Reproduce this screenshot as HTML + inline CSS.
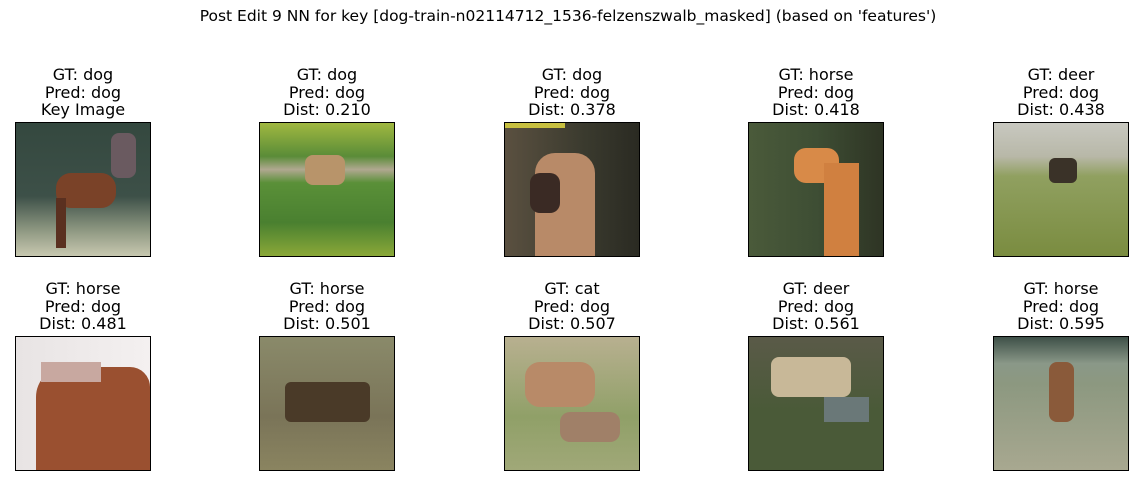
<!DOCTYPE html>
<html><head><meta charset="utf-8"><style>
body{margin:0;width:1136px;height:486px;background:#fff;position:relative;overflow:hidden;font-family:"DejaVu Sans","Liberation Sans",sans-serif;color:#000}
.t{position:absolute;left:0;width:1136px;text-align:center;top:7px;font-size:15.5px}
.l{position:absolute;width:200px;text-align:center;font-size:16px;line-height:17.5px}
.im{position:absolute;width:136px;height:135px;border:1px solid #000;box-sizing:border-box;overflow:hidden}
.im div{position:absolute}
</style></head><body>
<div class="t">Post Edit 9 NN for key [dog-train-n02114712_1536-felzenszwalb_masked] (based on 'features')</div>

<div class="l" style="left:-17px;top:66px">GT: dog<br>Pred: dog<br>Key Image</div>
<div class="l" style="left:227px;top:66px">GT: dog<br>Pred: dog<br>Dist: 0.210</div>
<div class="l" style="left:472px;top:66px">GT: dog<br>Pred: dog<br>Dist: 0.378</div>
<div class="l" style="left:716px;top:66px">GT: horse<br>Pred: dog<br>Dist: 0.418</div>
<div class="l" style="left:961px;top:66px">GT: deer<br>Pred: dog<br>Dist: 0.438</div>

<div class="l" style="left:-17px;top:280px">GT: horse<br>Pred: dog<br>Dist: 0.481</div>
<div class="l" style="left:227px;top:280px">GT: horse<br>Pred: dog<br>Dist: 0.501</div>
<div class="l" style="left:472px;top:280px">GT: cat<br>Pred: dog<br>Dist: 0.507</div>
<div class="l" style="left:716px;top:280px">GT: deer<br>Pred: dog<br>Dist: 0.561</div>
<div class="l" style="left:961px;top:280px">GT: horse<br>Pred: dog<br>Dist: 0.595</div>

<!-- row1 -->
<div class="im" style="left:15px;top:122px;background:linear-gradient(#34483f 0%,#3d5048 55%,#8c9680 80%,#c8c8b0 100%)">
 <div style="left:40px;top:50px;width:60px;height:35px;background:#7a4228;border-radius:15px"></div>
 <div style="left:95px;top:10px;width:25px;height:45px;background:#6a5a60;border-radius:8px"></div>
 <div style="left:40px;top:75px;width:10px;height:50px;background:#5a3020"></div>
</div>
<div class="im" style="left:259px;top:122px;background:linear-gradient(#a0b840 0%,#5a8c38 25%,#b0a890 35%,#5a9038 45%,#4a8030 75%,#8aa838 100%)">
 <div style="left:45px;top:32px;width:40px;height:30px;background:#b8946a;border-radius:8px"></div>
</div>
<div class="im" style="left:504px;top:122px;background:linear-gradient(90deg,#5a5040,#3a3a2e 60%,#2a2a22)">
 <div style="left:30px;top:30px;width:60px;height:104px;background:#b88a68;border-radius:20px 20px 0 0"></div>
 <div style="left:25px;top:50px;width:30px;height:40px;background:#3a2a24;border-radius:10px"></div>
 <div style="left:0;top:0;width:60px;height:5px;background:#c8c040"></div>
</div>
<div class="im" style="left:748px;top:122px;background:linear-gradient(90deg,#4a5a3a,#3e4e34 50%,#2e3424)">
 <div style="left:45px;top:25px;width:45px;height:35px;background:#d88a48;border-radius:12px"></div>
 <div style="left:75px;top:40px;width:35px;height:94px;background:#d08040"></div>
</div>
<div class="im" style="left:993px;top:122px;background:linear-gradient(#c8c8c0 0%,#b8b8a8 25%,#90a060 40%,#7a8c40 100%)">
 <div style="left:55px;top:35px;width:28px;height:25px;background:#3a3228;border-radius:6px"></div>
</div>

<!-- row2 -->
<div class="im" style="left:15px;top:336px;background:linear-gradient(90deg,#e8e4e4,#f4f0f0)">
 <div style="left:20px;top:30px;width:114px;height:104px;background:#9a5030;border-radius:30px 20px 0 0"></div>
 <div style="left:25px;top:25px;width:60px;height:20px;background:#c8a8a0"></div>
</div>
<div class="im" style="left:259px;top:336px;background:linear-gradient(#8a8a6a,#7a7458 60%,#8a8460)">
 <div style="left:25px;top:45px;width:85px;height:40px;background:#4a3a28;border-radius:6px"></div>
</div>
<div class="im" style="left:504px;top:336px;background:linear-gradient(#b8b090,#90a068 60%,#a0a878)">
 <div style="left:20px;top:25px;width:70px;height:45px;background:#b88a68;border-radius:15px"></div>
 <div style="left:55px;top:75px;width:60px;height:30px;background:#a08068;border-radius:10px"></div>
</div>
<div class="im" style="left:748px;top:336px;background:linear-gradient(#5a5a48,#4a5a38 55%,#4a5a38)">
 <div style="left:22px;top:20px;width:80px;height:40px;background:#c8b898;border-radius:8px"></div>
 <div style="left:75px;top:60px;width:45px;height:25px;background:#6a7878"></div>
</div>
<div class="im" style="left:993px;top:336px;background:linear-gradient(#3e5048 0%,#8a9888 20%,#8c9880 35%,#a8a890 100%)">
 <div style="left:55px;top:25px;width:25px;height:60px;background:#8a5a3a;border-radius:8px"></div>
</div>
</body></html>
